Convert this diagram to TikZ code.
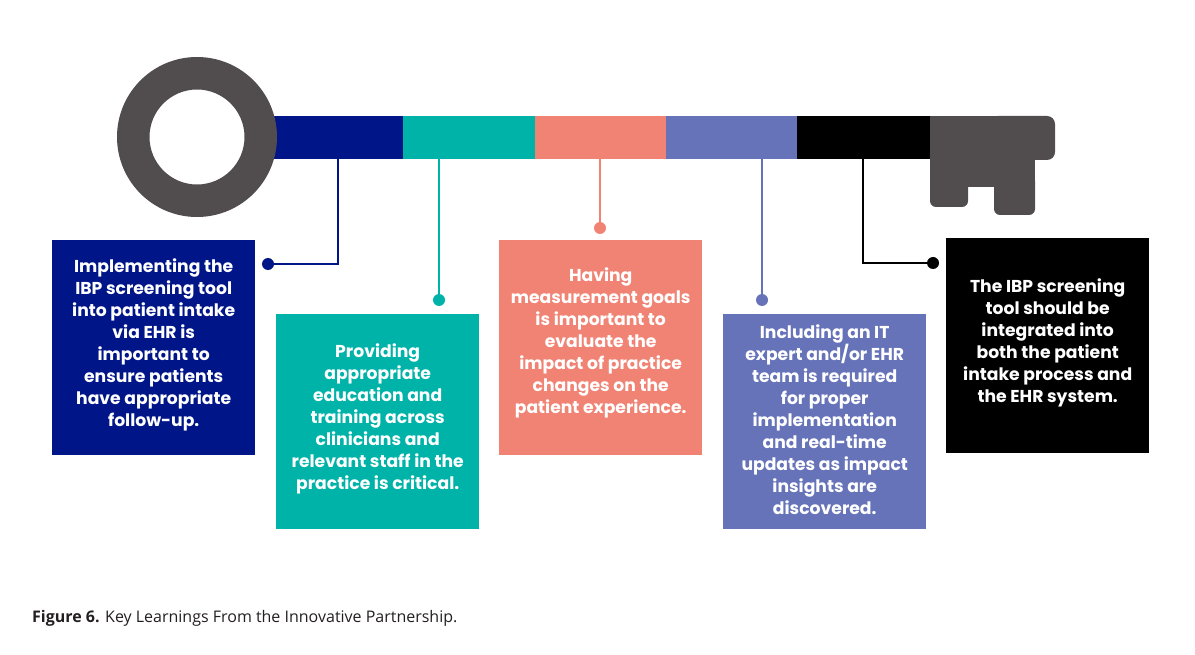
\documentclass[tikz,border=0pt]{standalone}
\usepackage{fontspec}
\setmainfont{Poppins}
\newfontfamily\capfont{Open Sans}
\usetikzlibrary{calc}
\definecolor{cnavy}{RGB}{0,21,136}
\definecolor{cteal}{RGB}{0,179,169}
\definecolor{csalmon}{RGB}{240,131,116}
\definecolor{cperi}{RGB}{102,115,185}
\definecolor{cblack}{RGB}{0,0,0}
\definecolor{ckey}{RGB}{81,76,77}
\definecolor{ccap}{RGB}{35,31,32}
\tikzset{
  seg/.style={fill=#1, draw=none, minimum height=43pt, inner sep=0pt, anchor=north west},
  card/.style={fill=#1, draw=none, minimum width=203pt, minimum height=215pt, inner sep=0pt, anchor=north west},
  cardtext/.style={text=white, align=center, font=\fontsize{17.2}{22}\selectfont\bfseries, inner sep=0pt},
  dotn/.style={circle, fill=#1, minimum size=12pt, inner sep=0pt},
  conn/.style={draw=#1, line width=2pt},
}
\begin{document}
\begin{tikzpicture}[x=1pt,y=-1pt]
\useasboundingbox (0,0) rectangle (1195,655);
% shaft segments
\node[seg=cnavy, minimum width=135pt] (s1) at (268,116) {};
\node[seg=cteal, minimum width=132pt] (s2) at (403,116) {};
\node[seg=csalmon, minimum width=131pt] (s3) at (535,116) {};
\node[seg=cperi, minimum width=131pt] (s4) at (666,116) {};
\node[seg=cblack, minimum width=133pt] (s5) at (797,116) {};
% key bit
\fill[ckey, rounded corners=8pt] (990,116) rectangle (1055,160);
\fill[ckey] (930,116) rectangle (1000,160);
\fill[ckey] (930,155) rectangle (1035,187);
\fill[ckey, rounded corners=6pt] (930,175) rectangle (968,207);
\fill[ckey, rounded corners=6pt] (994,175) rectangle (1035,215);
% ring
\fill[ckey, even odd rule] (197,137) circle[radius=80] (197,137) circle[radius=47.5];
% cards
\node[card=cnavy] (b1) at (52,240) {};
\node[card=cteal] (b2) at (276,314) {};
\node[card=csalmon] (b3) at (499,240) {};
\node[card=cperi] (b4) at (723,314) {};
\node[card=cblack] (b5) at (946,238) {};
\node[cardtext] (t1) at ($(b1.center)+(0,-3)$) {Implementing the\\IBP screening tool\\into patient intake\\via EHR is\\important to\\ensure patients\\have appropriate\\follow-up.};
\node[cardtext] (t2) at ($(b2.center)+(0,-3)$) {Providing\\appropriate\\education and\\training across\\clinicians and\\relevant staff in the\\practice is critical.};
\node[cardtext] (t3) at ($(b3.center)+(0,-5)$) {Having\\measurement goals\\is important to\\evaluate the\\impact of practice\\changes on the\\patient experience.};
\node[cardtext] (t4) at ($(b4.center)+(0,-2)$) {Including an IT\\expert and/or EHR\\team is required\\for proper\\implementation\\and real-time\\updates as impact\\insights are\\discovered.};
\node[cardtext] (t5) at ($(b5.center)+(0,-3)$) {The IBP screening\\tool should be\\integrated into\\both the patient\\intake process and\\the EHR system.};
% dots
\node[dotn=cnavy] (d1) at (268,264) {};
\node[dotn=cteal] (d2) at (439,300) {};
\node[dotn=csalmon] (d3) at (600,228) {};
\node[dotn=cperi] (d4) at (762,300) {};
\node[dotn=cblack] (d5) at (933,263) {};
% connector starts on shaft
\coordinate (c1) at (s1.south -| 338,0);
\coordinate (c2) at (s2.south -| d2);
\coordinate (c3) at (s3.south -| d3);
\coordinate (c4) at (s4.south -| d4);
\coordinate (c5) at (s5.south -| 863,0);
\draw[conn=cnavy] (c1) |- (d1.center);
\draw[conn=cteal] (c2) -- (d2.center);
\draw[conn=csalmon] (c3) -- (d3.center);
\draw[conn=cperi] (c4) -- (d4.center);
\draw[conn=cblack] (c5) |- (d5.center);
% caption
\node[anchor=base west, inner sep=0pt, text=ccap, font=\capfont\fontsize{16}{18}\selectfont] (cap) at (32,622) {\textbf{Figure 6.} Key Learnings From the Innovative Partnership.};
\end{tikzpicture}
\end{document}
